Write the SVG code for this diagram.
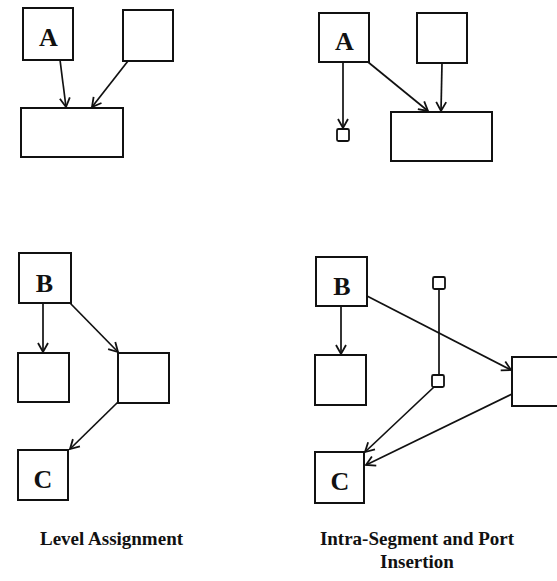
<svg xmlns="http://www.w3.org/2000/svg" width="557" height="581" viewBox="0 0 557 581">
  <style>
    .box { fill: #fff; stroke: #111; stroke-width: 2; }
    .port { fill: #fff; stroke: #111; stroke-width: 1.8; }
    .edge { fill: none; stroke: #111; stroke-width: 1.7; }
    .arrow { marker-end: url(#head); }
    .lbl { font-family: "Liberation Serif", "Times New Roman", serif; font-weight: bold; font-size: 26px; fill: #111; text-anchor: middle; }
    .cap { font-family: "Liberation Serif", "Times New Roman", serif; font-weight: bold; font-size: 19px; fill: #111; }
  </style>
  <defs>
    <marker id="head" markerUnits="userSpaceOnUse" markerWidth="14" markerHeight="14" viewBox="-11 -7 14 14" refX="0" refY="0" orient="auto">
      <path d="M-9,-5 L0,0 L-9,5" fill="none" stroke="#111" stroke-width="1.8"/>
    </marker>
  </defs>
  <rect width="557" height="581" fill="#fff"/>

  <!-- Level assignment, top: A and a sibling feeding one wide node -->
  <g id="la-top-a"><rect class="box" x="23" y="8" width="50" height="52"/><text class="lbl" x="48.5" y="46">A</text></g>
  <g id="la-top-src"><rect class="box" x="123" y="10" width="50" height="51"/></g>
  <g id="la-top-sink"><rect class="box" x="21" y="108" width="102" height="49"/></g>

  <!-- Intra-segment and port insertion, top -->
  <g id="ip-top-a"><rect class="box" x="319" y="13" width="50" height="49"/><text class="lbl" x="344.5" y="50">A</text></g>
  <g id="ip-top-src"><rect class="box" x="417" y="13" width="50" height="50"/></g>
  <g id="ip-top-sink"><rect class="box" x="391" y="112" width="101" height="49"/></g>
  <g id="ip-top-port"><rect class="port" x="337" y="129" width="12" height="12" rx="1.5"/></g>

  <!-- Level assignment, bottom: B, C and intermediate nodes -->
  <g id="la-bot-b"><rect class="box" x="19" y="253" width="52" height="50"/><text class="lbl" x="44.5" y="292">B</text></g>
  <g id="la-bot-left"><rect class="box" x="18" y="353" width="51" height="49"/></g>
  <g id="la-bot-mid"><rect class="box" x="118" y="353" width="51" height="50"/></g>
  <g id="la-bot-c"><rect class="box" x="18" y="450" width="50" height="50"/><text class="lbl" x="43" y="488">C</text></g>

  <!-- Intra-segment and port insertion, bottom -->
  <g id="ip-bot-b"><rect class="box" x="316" y="257" width="51" height="49"/><text class="lbl" x="342" y="295">B</text></g>
  <g id="ip-bot-left"><rect class="box" x="315" y="355" width="51" height="50"/></g>
  <g id="ip-bot-c"><rect class="box" x="315" y="452" width="49" height="51"/><text class="lbl" x="340" y="490">C</text></g>
  <g id="ip-bot-right"><rect class="box" x="512" y="357" width="50" height="49"/></g>
  <g id="ip-bot-port-top"><rect class="port" x="433" y="277" width="12" height="12" rx="1.5"/></g>
  <g id="ip-bot-port-low"><rect class="port" x="432" y="375" width="12" height="12" rx="1.5"/></g>

  <g id="connectors">
    <!-- top left -->
    <line class="edge arrow" x1="60" y1="60" x2="66" y2="107"/>
    <line class="edge arrow" x1="128" y1="61" x2="92" y2="107"/>
    <!-- top right -->
    <line class="edge arrow" x1="343" y1="62" x2="343" y2="128"/>
    <line class="edge arrow" x1="368" y1="62" x2="428" y2="111"/>
    <line class="edge arrow" x1="442" y1="63" x2="441" y2="111"/>
    <!-- bottom left -->
    <line class="edge arrow" x1="43" y1="303" x2="43" y2="352"/>
    <line class="edge arrow" x1="70" y1="303" x2="118" y2="352"/>
    <line class="edge arrow" x1="118" y1="402" x2="70" y2="449"/>
    <!-- bottom right -->
    <line class="edge arrow" x1="341" y1="306" x2="341" y2="354"/>
    <line class="edge arrow" x1="367" y1="296" x2="511" y2="370"/>
    <line class="edge" x1="439" y1="289" x2="439" y2="375"/>
    <line class="edge arrow" x1="434" y1="387" x2="365" y2="452"/>
    <line class="edge arrow" x1="512" y1="394" x2="366" y2="465"/>
  </g>

  <text class="cap" x="40" y="545">Level Assignment</text>
  <text class="cap" x="417" y="545" text-anchor="middle">Intra-Segment and Port</text>
  <text class="cap" x="417" y="568" text-anchor="middle">Insertion</text>
</svg>
